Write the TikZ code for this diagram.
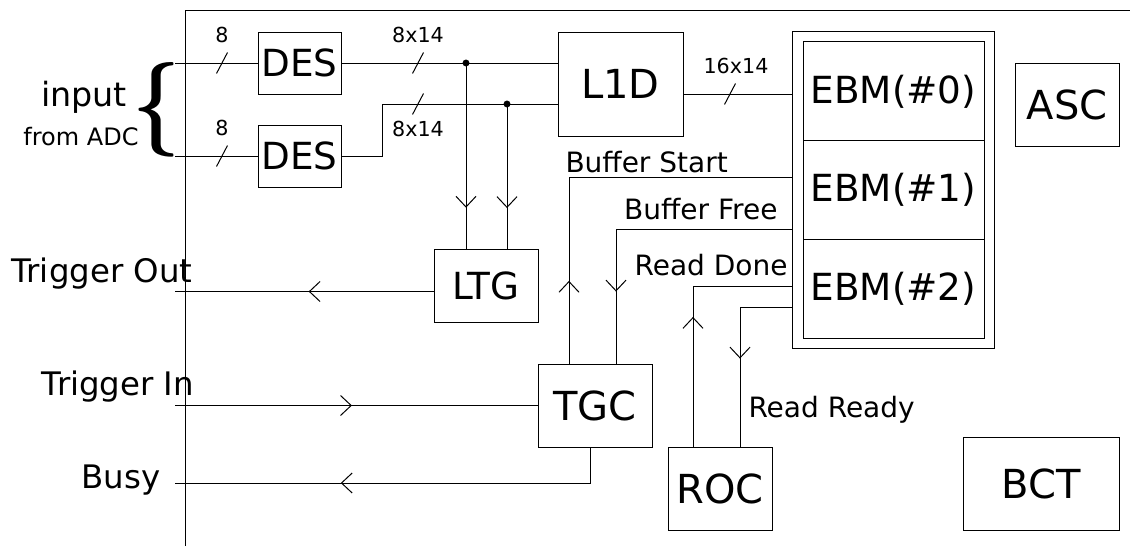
\documentclass[tikz,border=0pt]{standalone}
\usepackage{fontspec}
\setmainfont{DejaVu Sans}
\usetikzlibrary{arrows.meta,decorations.markings,fit}
\tikzset{
  boxA/.style={draw,inner sep=0pt,font=\fontsize{28}{33}\selectfont},
  boxB/.style={draw,inner sep=0pt,font=\fontsize{30}{36}\selectfont},
  sz/.style 2 args={minimum width=#1*0.75pt,minimum height=#2*0.75pt},
  buslbl/.style={inner sep=0pt,font=\fontsize{15.5}{18}\selectfont},
  sig/.style={inner sep=0pt,anchor=base,font=\fontsize{24.3}{28}\selectfont},
  ctl/.style={inner sep=0pt,font=\fontsize{21}{25}\selectfont},
  midarrow/.style={postaction={decorate},decoration={markings,
    mark=at position #1 with {\arrow{Straight Barb[length=8pt,width=15pt]}}}},
  busslash/.pic={\draw (-5.5,10.5) -- (5.5,-10.5);}
}
\begin{document}
\begin{tikzpicture}[x=0.75pt,y=-0.75pt,line width=0.75pt]
\useasboundingbox (0,0) rectangle (1130,546);
% frame
\draw (185,546) -- (185,10) -- (1130,10);
% blocks
\node[boxA,sz={83}{62}] (des1) at (299.5,63) {DES};
\node[boxA,sz={83}{62}] (des2) at (299.5,156) {DES};
\node[boxB,sz={125}{104}] (l1d) at (620.5,84) {L1D};
\node[boxA,sz={181}{98.7}] (e0) at (893.5,91.3) {EBM(\#0)};
\node[boxA,sz={181}{98.7}] (e1) at (893.5,190) {EBM(\#1)};
\node[boxA,sz={181}{98.7}] (e2) at (893.5,288.7) {EBM(\#2)};
\node[draw,inner sep=7.75pt,fit=(e0)(e2)] (ebm) {};
\node[boxB,sz={104}{83}] (asc) at (1067,104.5) {ASC};
\node[boxB,sz={156}{93}] (bct) at (1041,483.5) {BCT};
\node[boxA,sz={104}{73}] (ltg) at (486,285.5) {LTG};
\node[boxB,sz={114}{83}] (tgc) at (595,405.5) {TGC};
\node[boxB,sz={104}{83}] (roc) at (720,488.5) {ROC};
% coordinates
\coordinate (in1) at (175,63);
\coordinate (in2) at (175,156);
\coordinate (j2) at (382,104);
\coordinate (dot1) at (466,63);
\coordinate (dot2) at (507,104);
\coordinate (tout) at (175,291.5);
\coordinate (tin) at (175,405.5);
\coordinate (busy) at (175,483);
% input side
\node (brace) at (157,110) {\resizebox*{36pt}{71pt}{\boldmath$\{$}};
\node[sig,font=\fontsize{25}{30}\selectfont] (input) at (84,106) {input};
\node[sig,font=\fontsize{18}{22}\selectfont] (fromadc) at (81,145) {from ADC};
\draw (in1) -- (des1.west);
\draw (in2) -- (des2.west);
\pic at (222,63) {busslash};
\pic at (222,156) {busslash};
\node[buslbl] (b8a) at (222,35) {8};
\node[buslbl] (b8b) at (222,128) {8};
% DES to L1D
\draw (des1.east) -- (l1d.west |- des1.east);
\draw (des2.east) -| (j2) -- (l1d.west |- j2);
\pic at (418,63) {busslash};
\pic at (418,104) {busslash};
\node[buslbl] (b814a) at (418,35) {8x14};
\node[buslbl] (b814b) at (418,129) {8x14};
\fill (dot1) circle[radius=2.6pt];
\fill (dot2) circle[radius=2.6pt];
\draw[midarrow=0.78] (dot1) -- (dot1 |- ltg.north);
\draw[midarrow=0.72] (dot2) -- (dot2 |- ltg.north);
% L1D to EBM
\draw (l1d.east |- 0,94) -- (ebm.west |- 0,94);
\pic at (730,94) {busslash};
\node[buslbl] (b1614) at (736,66) {16x14};
% triggers
\draw[midarrow=0.483] (ltg.west |- tout) -- (tout);
\draw[midarrow=0.488] (tin) -- (tgc.west);
\draw[midarrow=0.632] (tgc.south -| 590,0) |- (busy);
\node[sig] (ltout) at (102,282) {Trigger Out};
\node[sig] (ltin) at (118,395) {Trigger In};
\node[sig] (lbusy) at (121,488) {Busy};
% control lines
\draw[midarrow=0.202] (tgc.north -| 569,0) |- (ebm.west |- 0,177);
\draw[midarrow=0.768] (ebm.west |- 0,229) -| (tgc.north -| 616,0);
\draw[midarrow=0.5] (roc.north -| 693,0) |- (ebm.west |- 0,286);
\draw[midarrow=0.54] (ebm.west |- 0,307) -| (roc.north -| 740,0);
\node[ctl,anchor=base west] (lbs) at (565,172) {Buffer Start};
\node[ctl,anchor=base east] (lbf) at (778,219) {Buffer Free};
\node[ctl,anchor=base east] (lrd) at (788,275) {Read Done};
\node[ctl,anchor=base west] (lrr) at (748,417) {Read Ready};
\end{tikzpicture}
\end{document}
